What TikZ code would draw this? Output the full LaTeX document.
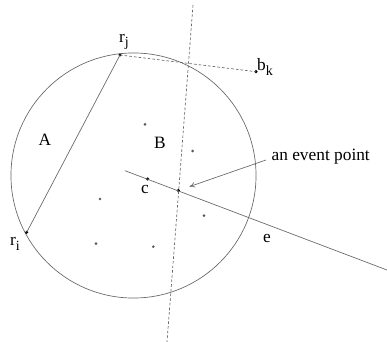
\documentclass[tikz,border=0pt]{standalone}
\usepackage{fontspec}
\setmainfont{Liberation Serif}
\usetikzlibrary{positioning, arrows.meta}
\newcommand{\lowidx}[1]{\raisebox{-0.6ex}{\fontsize{10.5}{10.5}\selectfont #1}}

\begin{document}
\begin{tikzpicture}[x=0.75pt, y=-0.75pt,
    edge/.style={gray!80!black, line width=0.5pt},
    guide/.style={gray!80!black, line width=0.5pt, dashed, dash pattern=on 2pt off 1.5pt},
    pt/.style={circle, fill=black, inner sep=0pt, minimum size=2.6pt},
    site/.style={circle, fill=gray!70!black, inner sep=0pt, minimum size=2.2pt},
    lbl/.style={font=\fontsize{13}{13}\selectfont, inner sep=1pt}
  ]
  \useasboundingbox (0,0) rectangle (387,342);
  % circle through r_i and r_j
  \coordinate (O) at (133.5,175.5);
  \draw[edge] (O) circle[radius=91.9pt];
  % points
  \node[pt] (rj) at (120,55) {};
  \node[pt] (ri) at (26.7,232.3) {};
  \node[pt] (bk) at (256,71.7) {};
  \node[pt] (c) at (147.7,179) {};
  \node[pt] (ev) at (178.3,190.5) {};
  \node[site] (s1) at (145,124.3) {};
  \node[site] (s2) at (192.7,151) {};
  \node[site] (s3) at (100,199) {};
  \node[site] (s4) at (96,243.7) {};
  \node[site] (s5) at (153.3,246.7) {};
  \node[site] (s6) at (204,215.7) {};
  % line ends
  \coordinate (dtop) at (193,5);
  \coordinate (dbot) at (167,342);
  \coordinate (es) at (125,170.7);
  \coordinate (ee) at (387,270);
  \coordinate (evs) at (266,160);
  % lines
  \draw[edge] (rj.center) -- (ri.center);
  \draw[guide] (rj.center) -- (bk.center);
  \draw[guide] (dtop) -- (dbot);
  \draw[edge] (es) -- (ee);
  % labels
  \node[lbl] (lrj) at (124,42) {r\lowidx{j}};
  \node[lbl] (lri) at (15,244) {r\lowidx{i}};
  \node[lbl] (lbk) at (265,67) {b\lowidx{k}};
  \node[lbl] (la) at (45,140) {A};
  \node[lbl] (lb) at (160,143) {B};
  \node[lbl] (lc) at (145,190) {c};
  \node[lbl] (le) at (267,239) {e};
  \node[lbl, anchor=west] (lev) at (270,157) {an event point};
  \draw[edge, -{To[length=4pt, width=4pt]}, shorten >=9pt] (evs) -- (ev.center);
\end{tikzpicture}
\end{document}
